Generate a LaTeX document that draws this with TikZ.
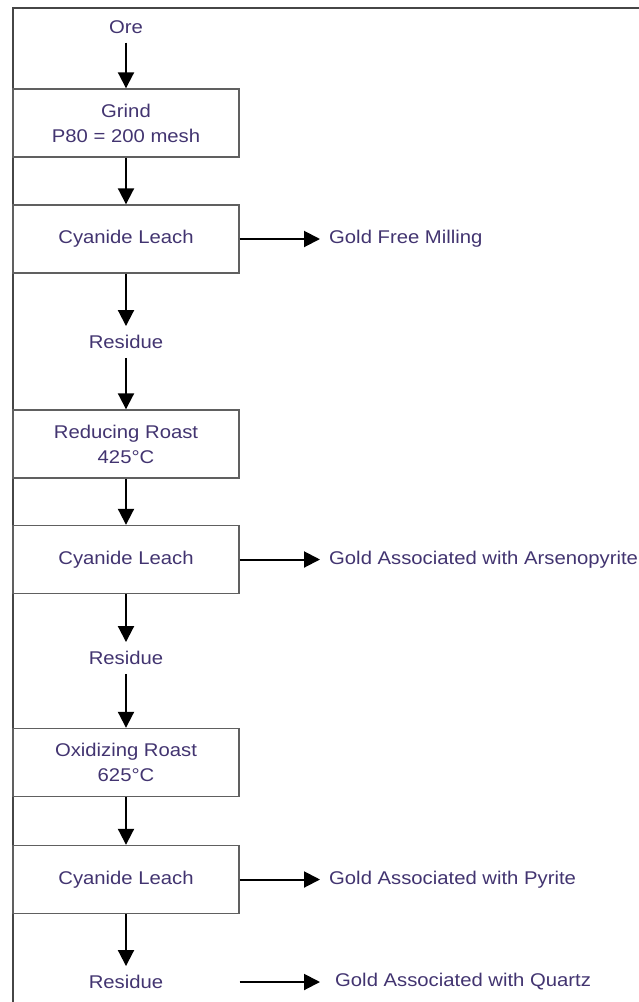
\documentclass[tikz,border=0pt]{standalone}
\usepackage{fontspec}
\setmainfont{Liberation Sans}[FakeStretch=1.1]
\usetikzlibrary{arrows.meta}

\definecolor{labelink}{RGB}{66,52,112}
\definecolor{boxline}{RGB}{96,96,96}
\definecolor{frameline}{RGB}{70,70,70}

\begin{document}
\begin{tikzpicture}[
  x=1bp, y=-1bp,
  >={Triangle[length=16bp, width=16bp]},
  every node/.style={font=\fontsize{18.5}{25}\selectfont, text=labelink},
  stepbox/.style={draw=boxline, line width=1.4bp, minimum width=226bp, minimum height=68bp, align=center, inner sep=0pt},
  tag/.style={inner xsep=2bp, inner ysep=9bp},
  outlabel/.style={anchor=west, inner xsep=9bp},
  flow/.style={->, line width=2bp, black}
]
  \useasboundingbox (0,0) rectangle (639,1002);
  \draw[frameline, line width=2bp] (13,1002) -- (13,8) -- (639,8);

  % main column
  \node[tag] (ore) at (126,27) {Ore};
  \node[stepbox] (grind) at (126,123) {Grind\\P80 = 200 mesh};
  \node[stepbox] (leachA) at (126,239) {Cyanide Leach};
  \node[tag] (resA) at (126,342) {Residue};
  \node[stepbox] (reduce) at (126,444) {Reducing Roast\\425°C};
  \node[stepbox] (leachB) at (126,559.5) {Cyanide Leach};
  \node[tag] (resB) at (126,658) {Residue};
  \node[stepbox] (oxid) at (126,762.5) {Oxidizing Roast\\625°C};
  \node[stepbox] (leachC) at (126,879.5) {Cyanide Leach};
  \node[tag] (resC) at (126,982) {Residue};

  % products
  \node[outlabel] (freeAu) at (320,239) {Gold Free Milling};
  \node[outlabel] (arsAu) at (320,559.5) {Gold Associated with Arsenopyrite};
  \node[outlabel] (pyrAu) at (320,879.5) {Gold Associated with Pyrite};
  \node[outlabel, inner xsep=15bp] (qtzAu) at (320,982) {Gold Associated with Quartz};
  \coordinate (resCout) at (leachC.east |- resC);

  \draw[flow] (ore) -- (grind);
  \draw[flow] (grind) -- (leachA);
  \draw[flow] (leachA) -- (resA);
  \draw[flow] (resA) -- (reduce);
  \draw[flow] (reduce) -- (leachB);
  \draw[flow] (leachB) -- (resB);
  \draw[flow] (resB) -- (oxid);
  \draw[flow] (oxid) -- (leachC);
  \draw[flow] (leachC) -- (resC);

  \draw[flow] (leachA.east) -- (freeAu.west);
  \draw[flow] (leachB.east) -- (arsAu.west);
  \draw[flow] (leachC.east) -- (pyrAu.west);
  \draw[flow] (resCout) -- (qtzAu.west);
\end{tikzpicture}
\end{document}
